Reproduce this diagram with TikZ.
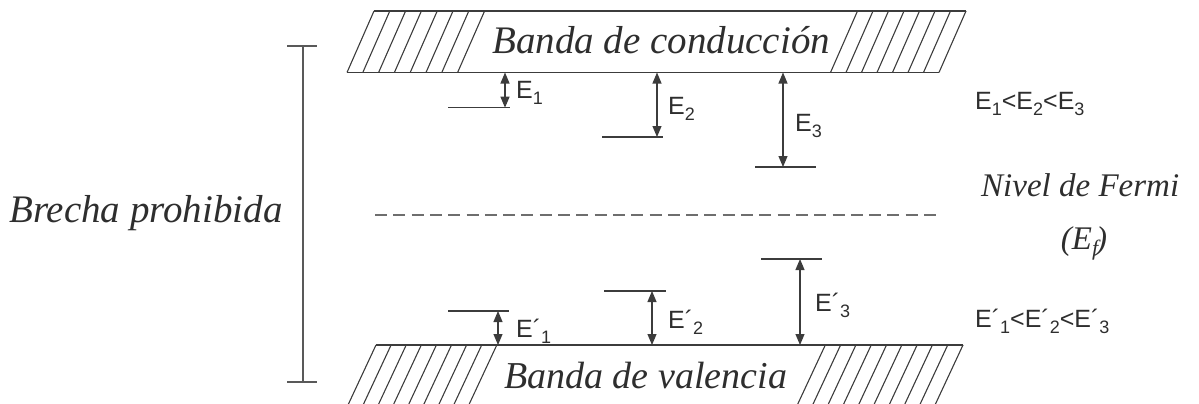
\documentclass[tikz,border=0pt]{standalone}
\usepackage{fontspec}
\setmainfont{Liberation Serif}
\newfontfamily\sansf{Liberation Sans}
\usetikzlibrary{arrows.meta}
\definecolor{ln}{HTML}{3C3C3C}
\definecolor{tx}{HTML}{2E2E2E}
\definecolor{dsh}{HTML}{6E6E6E}
\newcommand\subx[1]{\raisebox{-6.5pt}{\fontsize{18}{18}\selectfont #1}}
\tikzset{
  band/.style={draw=ln, line width=1.1pt},
  lvl/.style={draw=ln, line width=1.2pt},
  dim/.style={draw=ln, line width=1.1pt, {Triangle[length=11pt,width=9pt]}-{Triangle[length=11pt,width=9pt]}},
  brk/.style={draw=ln!85, line width=1.2pt},
  fermi/.style={draw=dsh, line width=1.6pt, dash pattern=on 12pt off 6.3pt},
  bigtxt/.style={font=\fontsize{39}{41}\selectfont\itshape, text=tx, anchor=base west, inner sep=0pt},
  midtxt/.style={font=\fontsize{33}{35}\selectfont\itshape, text=tx, inner sep=0pt},
  elab/.style={font=\sansf\fontsize{25}{27}\selectfont, text=tx, anchor=base west, inner sep=0pt}
}
\begin{document}
\begin{tikzpicture}[x=1pt,y=-1pt]
\useasboundingbox (0,0) rectangle (1199,404);
% conduction band
\draw[band] (374,11) -- (966,11);
\draw[band] (347,72.5) -- (939,72.5);
\foreach \k in {0,...,7} \draw[band] ({374+15.8*\k},11) -- ({347+15.8*\k},72.5);
\foreach \k in {0,...,7} \draw[band] ({966-15.5*\k},11) -- ({939-15.5*\k},72.5);
\node[bigtxt] (cb) at (492,54) {Banda de conducción};
% valence band
\draw[band] (376,345) -- (963,345);
\foreach \k in {0,...,8} \draw[band] ({376+15.1*\k},345) -- ({376+15.1*\k-28},405);
\foreach \k in {0,...,9} \draw[band] ({963-15.3*\k},345) -- ({963-15.3*\k-28},405);
\node[bigtxt, font=\fontsize{38}{40}\selectfont\itshape] (vb) at (504,388) {Banda de valencia};
% gap bracket
\coordinate (bt) at (303,46);
\coordinate (bb) at (303,382);
\draw[brk] (bt) -- (bb);
\draw[brk] ([xshift=-16pt]bt) -- ([xshift=14pt]bt);
\draw[brk] ([xshift=-16pt]bb) -- ([xshift=14pt]bb);
\node[bigtxt] (gap) at (9,222) {Brecha prohibida};
% Fermi level
\coordinate (fa) at (375,215);
\coordinate (fb) at (937,215);
\draw[fermi] (fa) -- (fb);
\node[midtxt, anchor=base west] (nf) at (981,196) {Nivel de Fermi};
\node[midtxt, anchor=base] (ef) at (1084,249) {(E\raisebox{-6pt}{\fontsize{22}{22}\selectfont f}\kern-2pt)};
% donor levels
\coordinate (c1) at (505,72.5); \coordinate (d1) at (505,107.7);
\coordinate (c2) at (657,72.5); \coordinate (d2) at (657,137);
\coordinate (c3) at (783,72.5); \coordinate (d3) at (783,167);
\draw[lvl] (448,107.7) -- (510,107.7);
\draw[lvl] (602,137) -- (663,137);
\draw[lvl] (755,167) -- (816,167);
\draw[dim] (c1) -- (d1);
\draw[dim] (c2) -- (d2);
\draw[dim] (c3) -- (d3);
\node[elab] (e1) at (516,98) {E\subx{1}};
\node[elab] (e2) at (668,114) {E\subx{2}};
\node[elab] (e3) at (795,131) {E\subx{3}};
\node[elab] (ee) at (975,109) {E\subx{1}<E\subx{2}<E\subx{3}};
% acceptor levels
\coordinate (v1) at (498,345); \coordinate (a1) at (498,311);
\coordinate (v2) at (652,345); \coordinate (a2) at (652,291);
\coordinate (v3) at (800,345); \coordinate (a3) at (800,259);
\draw[lvl] (448,311) -- (509,311);
\draw[lvl] (604,291) -- (666,291);
\draw[lvl] (761,259) -- (822,259);
\draw[dim] (v1) -- (a1);
\draw[dim] (v2) -- (a2);
\draw[dim] (v3) -- (a3);
\node[elab] (p1) at (516,337) {E´\subx{1}};
\node[elab] (p2) at (668,328) {E´\subx{2}};
\node[elab] (p3) at (815,311) {E´\subx{3}};
\node[elab] (pp) at (975,327) {E´\subx{1}<E´\subx{2}<E´\subx{3}};
\end{tikzpicture}
\end{document}
